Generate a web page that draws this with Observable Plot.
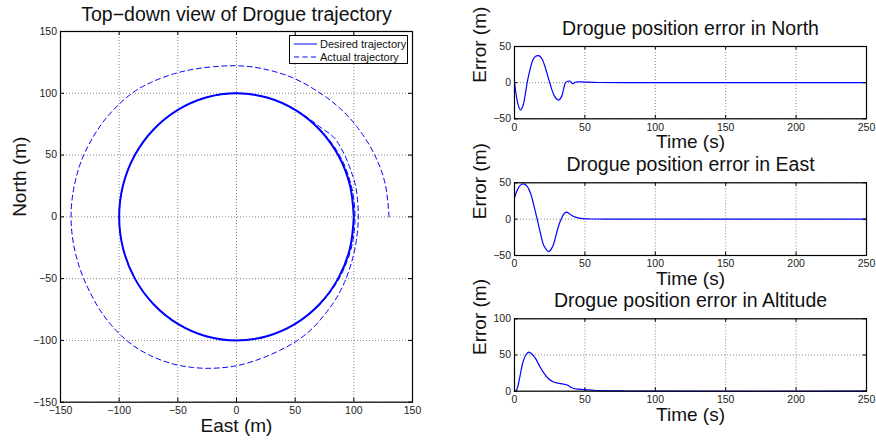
<!DOCTYPE html>
<html><head><meta charset="utf-8">
<script src="https://cdn.jsdelivr.net/npm/d3@7"></script>
<script src="https://cdn.jsdelivr.net/npm/@observablehq/plot@0.6"></script>
<style>
html,body{margin:0;padding:0;background:#fff;}
#fig{position:relative;width:876px;height:440px;overflow:hidden;background:#fff;font-family:"Liberation Sans",Arial,sans-serif;}
.legend{position:absolute;left:289px;top:35px;width:119px;height:29px;border:1.3px solid #000;background:#fff;box-sizing:border-box;}
.lrow{position:absolute;left:0;height:12px;display:flex;align-items:center;font-size:11px;color:#111;white-space:nowrap;}
.lrow svg{margin-left:4px;margin-right:3px;}
</style></head><body><div id="fig"></div>
<script>
// ---------------- data ----------------
const desiredEast  = [100, 96.6, 86.6, 70.7, 50, 25.9, 0, -25.9, -50, -70.7, -86.6, -96.6, -100, -96.6, -86.6, -70.7, -50, -25.9, 0, 25.9, 50, 70.7, 86.6, 96.6, 100];
const desiredNorth = [0, 25.9, 50, 70.7, 86.6, 96.6, 100, 96.6, 86.6, 70.7, 50, 25.9, 0, -25.9, -50, -70.7, -86.6, -96.6, -100, -96.6, -86.6, -70.7, -50, -25.9, 0];

const actualEast  = [130, 126.7, 117.8, 103.2, 88.0, 72.3, 47.8, 21.2, 0, -19.2, -36.5, -53.9, -73.3, -89.7, -112.2, -130.2, -138.4, -141, -138.4, -130.2, -113.5, -93.4, -75, -55.4, -37.3, -19.4, 0, 20, 37, 52, 65, 76, 85, 92, 98, 102, 103.8, 101.8, 97.5, 91.7, 83.1, 72.1, 62.0, 50.1, 25.9, 0, -25.9, -50, -70.7, -86.6, -96.6, -100, -96.6, -86.6, -70.7, -50, -25.9, 0, 25.9, 50, 71, 87.2, 97.6, 101, 97.6, 87.5, 70.9, 50, 25.9, 0, -25.9, -50];
const actualNorth = [0, 26.9, 50.0, 72.3, 88.0, 99.5, 112.6, 120.1, 122.3, 121.5, 119.5, 115.6, 108.6, 99.6, 78.6, 50.0, 24.4, 0, -24.4, -50.0, -79.4, -100.2, -111.5, -118.7, -121.9, -122.5, -120.5, -115, -108, -100, -90, -78, -66, -53, -37, -20, 0, 23.5, 37.4, 50.9, 64.2, 72.1, 79.4, 86.8, 96.6, 100, 96.6, 86.6, 70.7, 50, 25.9, 0, -25.9, -50, -70.7, -86.6, -96.6, -100, -96.6, -86.6, -71, -50.4, -26.1, 0, 26.1, 50.5, 70.9, 86.6, 96.6, 100, 96.6, 86.6];

const northTime = [0, 1, 2.5, 4.3, 6, 7.5, 9, 11, 13, 15, 17.3, 19.5, 22, 25, 27.5, 29.5, 31.5, 33.5, 35, 36.2, 38, 39.3, 41.4, 43, 45, 48, 52, 60, 80, 250];
const northErr  = [0, -14, -30, -37.8, -32, -18, 0, 18, 31, 36.5, 37.3, 33, 20, 0, -15, -22, -24, -19, -8, 0, 2, 2.2, -1.5, 0.5, 1.2, 1, 0.6, 0.2, 0, 0];

const eastTime = [0, 2, 4, 6.6, 9, 11.5, 14, 16.1, 18.5, 21, 24.4, 27, 29.5, 31.5, 33.1, 35, 36.9, 39, 41, 43.3, 46, 48.6, 55, 70, 250];
const eastErr  = [29.5, 40, 46.5, 48.5, 45, 35, 17, 0, -20, -37, -44.5, -38, -22, -8, 0, 7, 9.6, 7.5, 4.8, 2.7, 1.3, 0.7, 0.2, 0, 0];

const altTime = [0, 1.5, 3, 4.5, 6, 8, 10.2, 12.5, 15, 18, 21, 24, 27, 30, 33, 36, 38, 40, 42, 45, 49, 55, 60, 80, 100, 250];
const altErr  = [0, 2, 12, 27, 40, 50, 54, 51, 45, 34, 24.5, 17.5, 13.5, 11.5, 10.5, 9.2, 8, 5.5, 3.7, 2.8, 2.3, 1.5, 0.9, 0.3, 0, 0];

const trajTicks = [-150, -100, -50, 0, 50, 100, 150];
const timeTicks = [0, 50, 100, 150, 200, 250];
const errTicks  = [-50, 0, 50];
const altTicks  = [0, 50, 100];

const titles = ["Top\u2212down view of Drogue trajectory", "Drogue position error in North", "Drogue position error in East", "Drogue position error in Altitude"];
const axisLabels = {east: "East (m)", north: "North (m)", time: "Time (s)", error: "Error (m)"};
const legendLabels = ["Desired trajectory", "Actual trajectory"];

// ---------------- drawing ----------------
const FONT = "Liberation Sans, Arial, sans-serif";
const BLUE = "#0000ff";
const fig = document.getElementById("fig");

function panel(o) {
  const W = o.width - o.ml - o.mr, H = o.height - o.mt - o.mb;
  const svg = Plot.plot({
    width: o.width, height: o.height,
    marginTop: o.mt, marginRight: o.mr, marginBottom: o.mb, marginLeft: o.ml,
    x: {domain: o.xDomain}, y: {domain: o.yDomain},
    style: {fontFamily: FONT, background: "transparent", overflow: "visible", maxWidth: "none", color: "#000"},
    marks: [
      Plot.gridX({ticks: o.xTicks, stroke: "#8a8a8a", strokeOpacity: 1, strokeDasharray: "1,2"}),
      Plot.gridY({ticks: o.yTicks, stroke: "#8a8a8a", strokeOpacity: 1, strokeDasharray: "1,2"}),
      ...o.lines,
      Plot.tickX(o.xTicks, {x: d => d, insetTop: H - o.tickLen, stroke: "#000"}),
      Plot.tickX(o.xTicks, {x: d => d, insetBottom: H - o.tickLen, stroke: "#000"}),
      Plot.tickY(o.yTicks, {y: d => d, insetRight: W - o.tickLen, stroke: "#000"}),
      Plot.tickY(o.yTicks, {y: d => d, insetLeft: W - o.tickLen, stroke: "#000"}),
      Plot.frame({stroke: "#000", strokeWidth: 1.2}),
      Plot.axisX({ticks: o.xTicks, tickSize: 0, tickPadding: 4.5, fontSize: 10.5, fill: "#222", label: null}),
      Plot.axisY({ticks: o.yTicks, tickSize: 0, tickPadding: 3.5, fontSize: 10.5, fill: "#222", label: null}),
      Plot.text([o.title], {frameAnchor: "top", dy: o.titleDy, lineAnchor: "bottom", fontSize: 19.5, fill: "#111"}),
      Plot.text([o.xLabel], {frameAnchor: "bottom", dy: 29.5, lineAnchor: "bottom", fontSize: 19, fill: "#111"}),
      Plot.text([o.yLabel], {frameAnchor: "left", dx: o.yLabelDx, rotate: -90, lineAnchor: "bottom", fontSize: 19, fill: "#111"})
    ]
  });
  svg.style.position = "absolute";
  svg.style.left = o.left + "px";
  svg.style.top = o.top + "px";
  fig.appendChild(svg);
  return svg;
}

const desired = desiredEast.map((e, i) => ({e, n: desiredNorth[i]}));
const actual = actualEast.map((e, i) => ({e, n: actualNorth[i]}));

panel({
  left: 0, top: 0, width: 440, height: 440, mt: 31, mr: 28, mb: 38.3, ml: 60,
  xDomain: [-150, 150], yDomain: [-150, 150], xTicks: trajTicks, yTicks: trajTicks, tickLen: 4,
  title: titles[0], titleDy: -11, xLabel: axisLabels.east, yLabel: axisLabels.north, yLabelDx: -34.7,
  lines: [
    Plot.line(desired, {x: "e", y: "n", stroke: BLUE, strokeWidth: 2, curve: "catmull-rom"}),
    Plot.line(actual, {x: "e", y: "n", stroke: BLUE, strokeWidth: 1, strokeDasharray: "5,3.5", curve: "catmull-rom"})
  ]
});

function series(t, v) { return t.map((x, i) => ({t: x, v: v[i]})); }

panel({
  left: 440, top: 0, width: 436, height: 150, mt: 46, mr: 10, mb: 31.7, ml: 74,
  xDomain: [0, 250], yDomain: [-50, 50], xTicks: timeTicks, yTicks: errTicks, tickLen: 3.5,
  title: titles[1], titleDy: -12, xLabel: axisLabels.time, yLabel: axisLabels.error, yLabelDx: -28.7,
  lines: [Plot.line(series(northTime, northErr), {x: "t", y: "v", stroke: BLUE, strokeWidth: 1.2, curve: "catmull-rom"})]
});

panel({
  left: 440, top: 150, width: 436, height: 140, mt: 32.3, mr: 10, mb: 35, ml: 74,
  xDomain: [0, 250], yDomain: [-50, 50], xTicks: timeTicks, yTicks: errTicks, tickLen: 3.5,
  title: titles[2], titleDy: -12, xLabel: axisLabels.time, yLabel: axisLabels.error, yLabelDx: -28.7,
  lines: [Plot.line(series(eastTime, eastErr), {x: "t", y: "v", stroke: BLUE, strokeWidth: 1.2, curve: "catmull-rom"})]
});

panel({
  left: 440, top: 290, width: 436, height: 150, mt: 28.3, mr: 10, mb: 49.3, ml: 74,
  xDomain: [0, 250], yDomain: [0, 100], xTicks: timeTicks, yTicks: altTicks, tickLen: 3.5,
  title: titles[3], titleDy: -12, xLabel: axisLabels.time, yLabel: axisLabels.error, yLabelDx: -28.7,
  lines: [Plot.line(series(altTime, altErr), {x: "t", y: "v", stroke: BLUE, strokeWidth: 1.2, curve: "catmull-rom"})]
});

// legend
const leg = document.createElement("div");
leg.className = "legend";
legendLabels.forEach((lab, i) => {
  const row = document.createElement("div");
  row.className = "lrow";
  row.style.top = (i === 0 ? 1.5 : 14.8) + "px";
  const dash = i === 0 ? "" : ' stroke-dasharray="5,3.5"';
  row.innerHTML = `<svg width="23" height="4"><line x1="0" x2="23" y1="2" y2="2" stroke="${BLUE}" stroke-width="1"${dash}/></svg><span></span>`;
  row.querySelector("span").textContent = lab;
  leg.appendChild(row);
});
fig.appendChild(leg);
</script></body></html>
